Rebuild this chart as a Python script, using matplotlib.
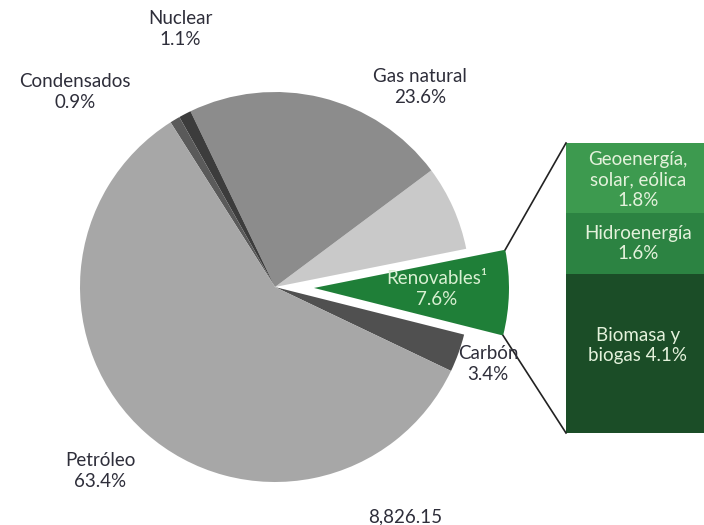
import numpy as np
import matplotlib.pyplot as plt

plt.rcParams['font.family'] = ['Lato', 'DejaVu Sans']

# Participación por fuente (%)
fuentes = ['Carbón', 'Renovables', 'Renovables (base)', 'Gas natural',
           'Nuclear', 'Condensados', 'Petróleo']
valores = [3.4, 7.6, 7.6, 23.6, 1.1, 0.9, 63.4]
colores = ['#505050', '#1f7f38', '#c9c9c9', '#8c8c8c',
           '#3c3c3c', '#5a5a5a', '#a7a7a7']
separar = [0, 0.2, 0, 0, 0, 0, 0]

# Desglose de renovables (%)
renov_cat = ['Biomasa y\nbiogas 4.1%', 'Hidroenergía\n1.6%',
             'Geoenergía,\nsolar, eólica\n1.8%']
renov_val = [4.1, 1.6, 1.8]
renov_col = ['#1b4d27', '#2c8342', '#3d9a4f']

total_text = '8,826.15'

W, H = 704, 525
fig = plt.figure(figsize=(W / 100, H / 100), dpi=100)
fig.patch.set_facecolor('white')
ax = fig.add_axes([0, 0, 1, 1])

cx, cy, r = 275, H - 287, 195
# explode de pie() va en unidades de datos, así que se escala por el radio
wedges, _ = ax.pie(valores, colors=colores, explode=[f * r for f in separar],
                   startangle=-25.5, counterclock=True,
                   center=(cx, cy), radius=r, frame=True,
                   wedgeprops=dict(linewidth=0))
ax.set_xlim(0, W)
ax.set_ylim(0, H)
ax.set_aspect('equal')
ax.axis('off')

fs = 13.5

# barra apilada con el desglose de renovables
bar_top = H - 143
bar_h = 290
escala = bar_h / sum(renov_val)
bar_x, bar_w = 566, 150
bottoms = bar_top - bar_h + np.concatenate([[0], np.cumsum(renov_val)[:-1]]) * escala
bars = ax.bar([bar_x] * 3, np.array(renov_val) * escala, width=bar_w,
              bottom=bottoms, color=renov_col, align='edge', linewidth=0)
for b, lab, dy in zip(bars, renov_cat, [8, 0, -2]):
    ax.text(638, b.get_y() + b.get_height() / 2 + dy, lab, ha='center', va='center',
            fontsize=fs, color='#e4f2dc', linespacing=1.25)

# líneas del sector verde a la barra
w = wedges[1]
wx, wy = w.center
t1, t2 = np.deg2rad(w.theta1), np.deg2rad(w.theta2)
p_sup = (wx + w.r * np.cos(t2), wy + w.r * np.sin(t2))
p_inf = (wx + w.r * np.cos(t1), wy + w.r * np.sin(t1))
ax.plot([p_sup[0], bar_x], [p_sup[1], bar_top], color='#222222', lw=1.2)
ax.plot([p_inf[0], bar_x], [p_inf[1], bar_top - bar_h], color='#222222', lw=1.2)

txt = dict(ha='center', va='center', fontsize=fs, color='#2e2e3a', linespacing=1.25)
ax.text(180, H - 29, 'Nuclear\n1.1%', **txt)
ax.text(75, H - 92, 'Condensados\n0.9%', **txt)
ax.text(420, H - 87, 'Gas natural\n23.6%', **txt)
ax.text(488, H - 364, 'Carbón\n3.4%', **txt)
ax.text(100, H - 471, 'Petróleo\n63.4%', **txt)
ax.text(405, H - 517, total_text, **txt)
ax.text(437, H - 289, 'Renovables¹\n7.6%', ha='center', va='center',
        fontsize=fs, color='#d9f0d2', linespacing=1.25)

fig.savefig('out.png', dpi=100, facecolor='white')
